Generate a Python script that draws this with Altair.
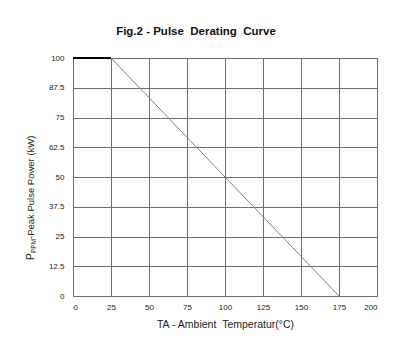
import altair as alt
import pandas as pd

# Data
flat_temp = [0, 25]
flat_power = [100, 100]
slope_temp = [25, 175]
slope_power = [100, 0]

x_ticks = [0, 25, 50, 75, 100, 125, 150, 175, 200]
y_ticks = [0, 12.5, 25, 37.5, 50, 62.5, 75, 87.5, 100]

title_text = "Fig.2 - Pulse\u00a0\u00a0Derating\u00a0\u00a0Curve"
x_title = "TA - Ambient\u00a0\u00a0Temperatur(°C)"
y_title_main = "P"
y_title_sub = "PPM"
y_title_rest = "-Peak Pulse Power (kW)"

flat_df = pd.DataFrame({"temp": flat_temp, "power": flat_power})
slope_df = pd.DataFrame({"temp": slope_temp, "power": slope_power})

FONT = "Liberation Sans"
GRID = "#6e6e6e"

x_enc = alt.X("temp:Q", scale=alt.Scale(domain=[0, 200], nice=False),
              axis=alt.Axis(values=x_ticks, title=x_title, grid=True,
                            gridColor=GRID, gridOpacity=1, gridWidth=1,
                            domain=False, ticks=False, labelPadding=7,
                            labelOverlap=False, labelFontSize=8,
                            labelExpr="'' + datum.value",
                            labelColor="#222", labelFont=FONT,
                            titleFont=FONT, titleFontSize=10.5, titleFontWeight="normal",
                            titleColor="#222", titlePadding=8))
y_enc = alt.Y("power:Q", scale=alt.Scale(domain=[0, 100], nice=False),
              axis=alt.Axis(values=y_ticks, title=None, grid=True,
                            gridColor=GRID, gridOpacity=1, gridWidth=1,
                            domain=False, ticks=False, labelPadding=9,
                            labelOverlap=False, labelFontSize=8,
                            labelExpr="'' + datum.value",
                            labelColor="#222", labelFont=FONT))

slope = alt.Chart(slope_df).mark_line(color="#808080", strokeWidth=1).encode(x=x_enc, y=y_enc)
flat = alt.Chart(flat_df).mark_line(color="#000000", strokeWidth=2).encode(x=x_enc, y=y_enc)

title = alt.Chart(pd.DataFrame({"t": [title_text]})).mark_text(
    font=FONT, fontSize=11.5, fontWeight="bold", color="#111", align="center", baseline="alphabetic"
).encode(text="t:N", x=alt.value(123), y=alt.value(-23))

yt1 = alt.Chart(pd.DataFrame({"t": [y_title_main]})).mark_text(
    font=FONT, fontSize=10, color="#222", angle=270, align="left", baseline="alphabetic"
).encode(text="t:N", x=alt.value(-39), y=alt.value(202))
yt2 = alt.Chart(pd.DataFrame({"t": [y_title_sub]})).mark_text(
    font=FONT, fontSize=6.5, color="#222", angle=270, align="left", baseline="alphabetic"
).encode(text="t:N", x=alt.value(-37.5), y=alt.value(195))
yt3 = alt.Chart(pd.DataFrame({"t": [y_title_rest]})).mark_text(
    font=FONT, fontSize=9.5, color="#222", angle=270, align="left", baseline="alphabetic"
).encode(text="t:N", x=alt.value(-39), y=alt.value(181))

chart = alt.layer(slope, flat, title, yt1, yt2, yt3).properties(
    width=304, height=238,
    autosize="none",
    padding={"left": 73, "top": 58, "right": 31, "bottom": 58},
    background="white",
).configure_view(stroke=GRID, strokeWidth=1)

chart.save("out.html", embed_options={"renderer": "svg", "actions": False})
